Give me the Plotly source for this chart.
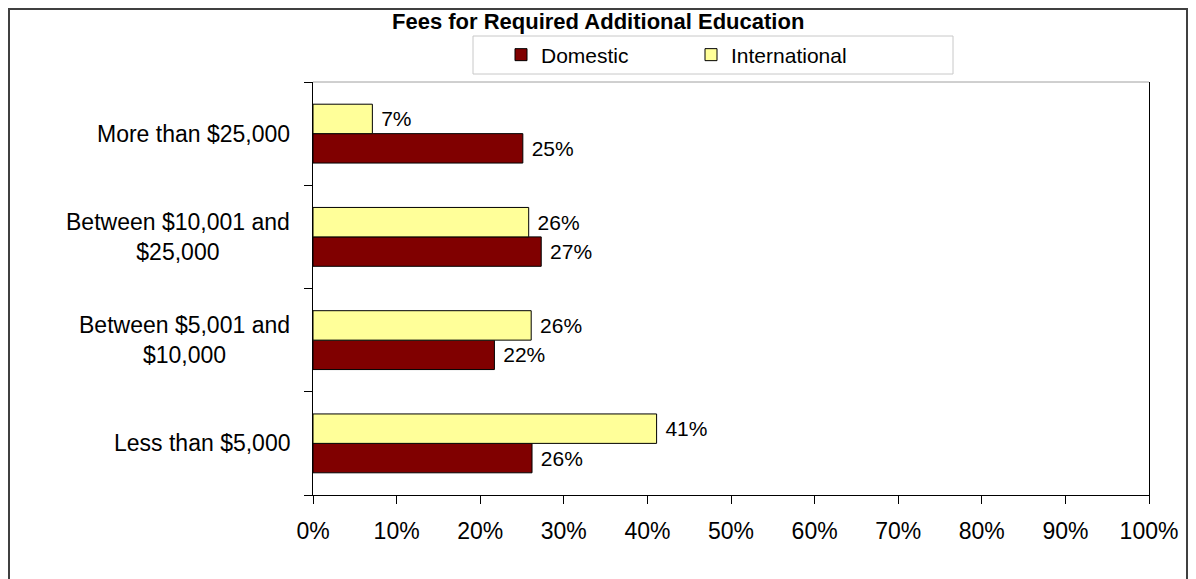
import plotly.graph_objects as go

# data
categories = ["Less than $5,000", "Between $5,001 and $10,000",
              "Between $10,001 and $25,000", "More than $25,000"]
tick_labels = ["Less than $5,000", "Between $5,001 and<br>$10,000",
               "Between $10,001 and<br>$25,000", "More than $25,000"]
domestic = [26.2, 21.7, 27.3, 25.1]
international = [41.1, 26.1, 25.8, 7.1]
x_ticks = [0, 10, 20, 30, 40, 50, 60, 70, 80, 90, 100]
x_tick_text = ["0%", "10%", "20%", "30%", "40%", "50%",
               "60%", "70%", "80%", "90%", "100%"]
title_text = "Fees for Required Additional Education"

FONT = "Liberation Sans, Arial, sans-serif"

# figure geometry (the page adds an 8px body margin)
W, H = 1188, 571
L, R, T, B = 305, 47, 74, 84
PW, PH = W - L - R, H - T - B


def px_x(x):
    return (x - L) / PW


def px_y(y):
    return (H - B - y) / PH


fig = go.Figure()

fig.add_trace(go.Bar(
    y=categories, x=domestic, name="Domestic", orientation="h",
    marker=dict(color="#800000", line=dict(color="black", width=1)),
    texttemplate="\u00a0%{x:.0f}%", textposition="outside",
    textfont=dict(size=21, color="black"), constraintext="none",
    cliponaxis=False
))
fig.add_trace(go.Bar(
    y=categories, x=international, name="International", orientation="h",
    marker=dict(color="#FFFF99", line=dict(color="black", width=1)),
    texttemplate="\u00a0%{x:.0f}%", textposition="outside",
    textfont=dict(size=21, color="black"), constraintext="none",
    cliponaxis=False
))

# category labels as centred multi-line annotations
annotations = []
for cat, lab in zip(categories, tick_labels):
    annotations.append(dict(
        x=px_x(284), xref="paper", y=cat, yref="y", text=lab,
        showarrow=False, xanchor="right", align="center",
        font=dict(size=23, color="black", family=FONT)
    ))

annotations.append(dict(
    x=px_x(590), xref="paper", y=px_y(13), yref="paper",
    text="<b>" + title_text + "</b>", showarrow=False,
    xanchor="center", yanchor="middle",
    font=dict(size=22, color="black", family=FONT)
))

shapes = [
    # outer chart border
    dict(type="rect", xref="paper", yref="paper",
         x0=px_x(1), x1=px_x(1179), y0=px_y(620), y1=px_y(1),
         line=dict(color="#404040", width=2)),
    # legend frame
    dict(type="rect", xref="paper", yref="paper",
         x0=px_x(465), x1=px_x(945), y0=px_y(66), y1=px_y(28),
         line=dict(color="#c8c8c8", width=1)),
    # plot area top edge
    dict(type="line", xref="paper", yref="paper", x0=0, x1=1, y0=1, y1=1,
         line=dict(color="#a0a0a0", width=1)),
]

fig.update_layout(
    width=W, height=H,
    margin=dict(l=L, r=R, t=T, b=B),
    paper_bgcolor="white", plot_bgcolor="white",
    font=dict(family=FONT, size=21, color="black"),
    barmode="group", bargap=0.43, bargroupgap=0,
    legend=dict(orientation="h", x=px_x(493), xanchor="left",
                y=px_y(47), yanchor="middle",
                font=dict(size=21), entrywidth=145,
                bgcolor="rgba(0,0,0,0)", borderwidth=0,
                traceorder="normal"),
    xaxis=dict(range=[0, 100], tickvals=x_ticks, ticktext=x_tick_text,
               ticks="outside", ticklen=8, tickcolor="black",
               showline=True, linecolor="black", linewidth=1,
               showgrid=False, zeroline=False, ticklabelstandoff=7,
               tickfont=dict(size=23)),
    yaxis=dict(type="category", categoryorder="array",
               categoryarray=categories, showticklabels=False,
               ticks="outside", ticklen=8, tickcolor="black",
               tickson="boundaries", showline=True, linecolor="black",
               linewidth=1, mirror=True, showgrid=False, zeroline=False),
    annotations=annotations,
    shapes=shapes,
)

fig.write_html("out.html")
